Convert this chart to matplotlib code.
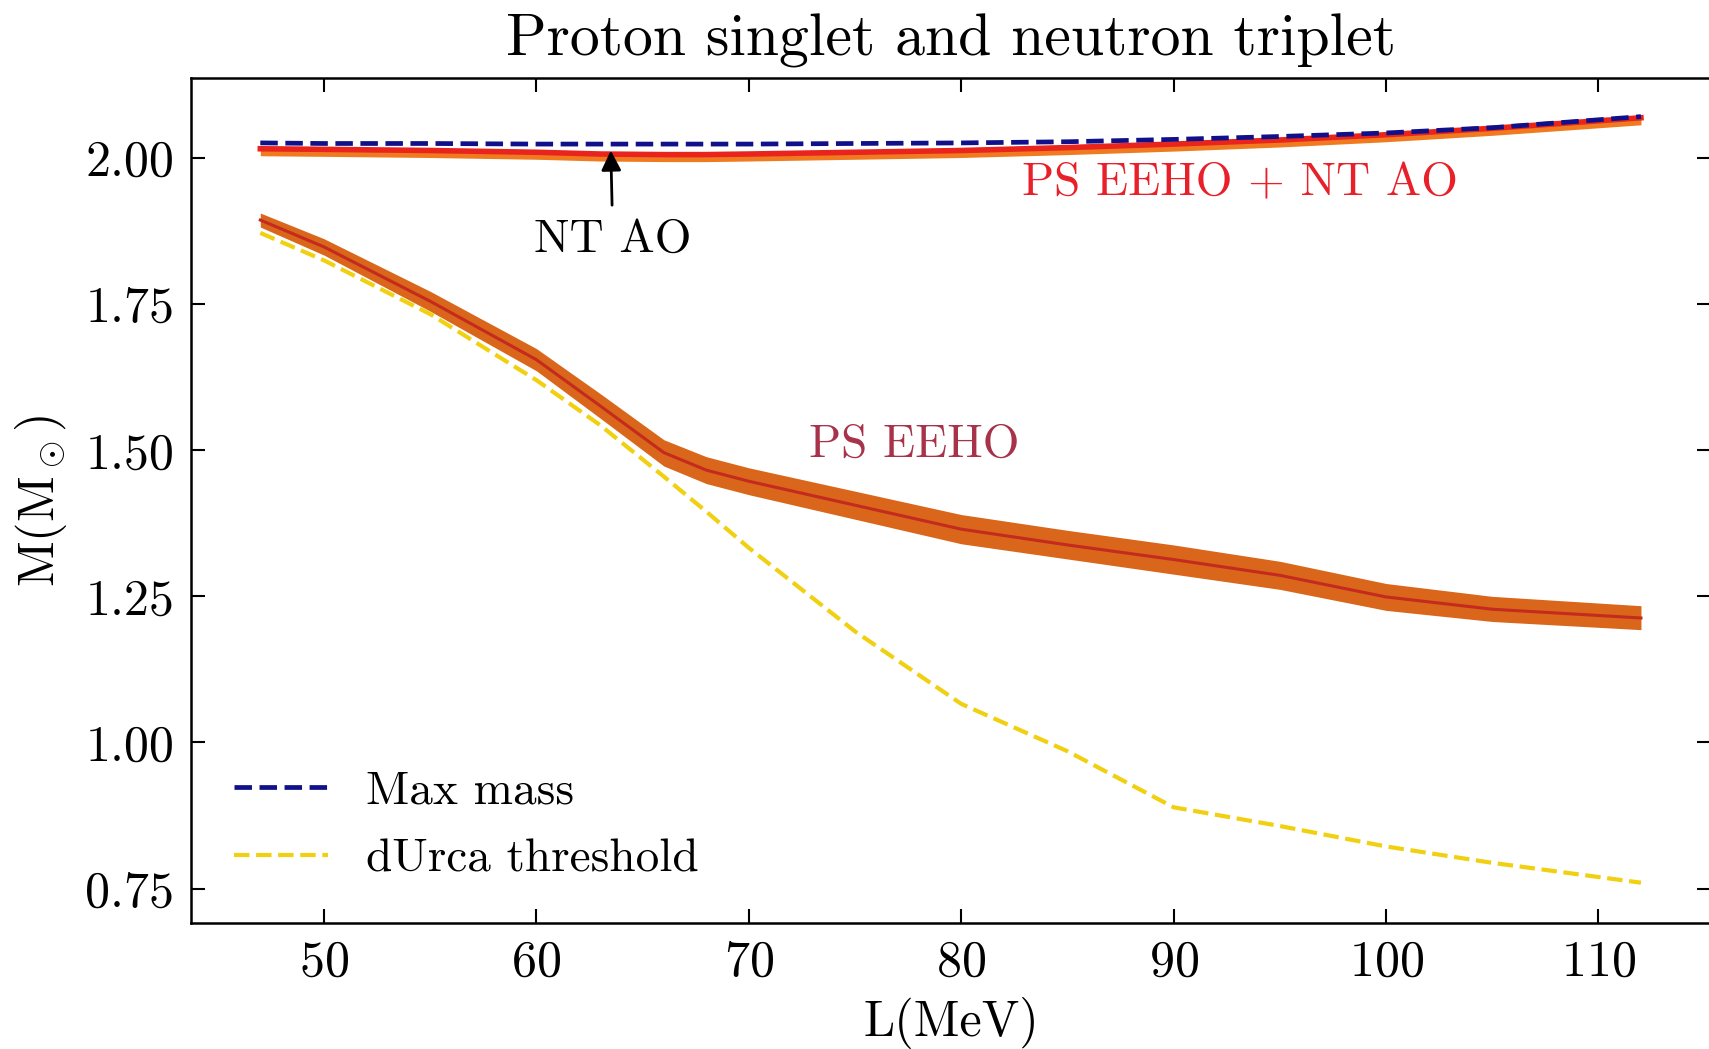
import matplotlib
matplotlib.use("Agg")
import matplotlib.pyplot as plt
from matplotlib.ticker import FormatStrFormatter

plt.rcParams['font.family'] = 'serif'
plt.rcParams['font.serif'] = ['cmr10']
plt.rcParams['mathtext.fontset'] = 'cm'
plt.rcParams['axes.formatter.use_mathtext'] = True

# slope parameter L (MeV)
L = [47, 50, 55, 60, 63, 66, 68, 70, 75, 80, 85, 90, 95, 100, 105, 112]

# maximum mass and the PS EEHO + NT AO curve (M_sun)
m_max = [2.026, 2.025, 2.025, 2.024, 2.024, 2.024, 2.024, 2.024, 2.025, 2.026,
         2.028, 2.032, 2.037, 2.043, 2.052, 2.071]
m_ps_nt = [2.016, 2.015, 2.013, 2.010, 2.007, 2.006, 2.006, 2.007, 2.010, 2.013,
           2.018, 2.024, 2.031, 2.040, 2.051, 2.069]

# PS EEHO: central value and band
m_ps = [1.894, 1.848, 1.755, 1.655, 1.576, 1.496, 1.466, 1.447, 1.406, 1.365,
        1.338, 1.313, 1.286, 1.249, 1.228, 1.213]
m_ps_lo = [1.882, 1.834, 1.738, 1.636, 1.555, 1.473, 1.443, 1.424, 1.382, 1.340,
           1.314, 1.288, 1.262, 1.226, 1.207, 1.193]
m_ps_hi = [1.906, 1.862, 1.772, 1.674, 1.597, 1.518, 1.489, 1.470, 1.430, 1.390,
           1.363, 1.338, 1.310, 1.272, 1.250, 1.234]

# direct Urca threshold
m_durca = [1.872, 1.825, 1.733, 1.620, 1.543, 1.455, 1.395, 1.333, 1.190, 1.066,
           0.985, 0.889, 0.857, 0.822, 0.794, 0.760]

fig = plt.figure(figsize=(17.09, 10.49), dpi=100)
ax = fig.add_axes([0.1118, 0.1201, 0.8894, 0.8055])

# PS EEHO + NT AO (thin band with red line)
ax.fill_between(L, [v - 0.012 for v in m_ps_nt], [v + 0.003 for v in m_ps_nt],
                color='#f07a20', lw=0)
ax.plot(L, m_ps_nt, color='#e8241c', lw=4)

# PS EEHO band
ax.fill_between(L, m_ps_lo, m_ps_hi, color='#d9661a', lw=0)
ax.plot(L, m_ps, color='#c42a1e', lw=2.2)

ax.plot(L, m_max, color='#10108a', lw=3.4, ls='--', label='Max mass')
ax.plot(L, m_durca, color='#f0d010', lw=3, ls='--', label='dUrca threshold')

ax.annotate('NT AO', xy=(63.5, 2.013), xytext=(63.6, 1.86),
            ha='center', va='center', fontsize=34,
            arrowprops=dict(arrowstyle='-|>', color='black', lw=2,
                            mutation_scale=30, shrinkA=8, shrinkB=0))
ax.text(93.1, 1.957, 'PS EEHO + NT AO', color='#e8202a', fontsize=34,
        ha='center', va='center')
ax.text(77.8, 1.509, 'PS EEHO', color='#a8324a', fontsize=34,
        ha='center', va='center')

ax.set_xlim(43.74, 115.3)
ax.set_ylim(0.691, 2.137)
ax.set_xticks([50, 60, 70, 80, 90, 100, 110])
ax.set_yticks([0.75, 1.00, 1.25, 1.50, 1.75, 2.00])
ax.yaxis.set_major_formatter(FormatStrFormatter('%.2f'))
ax.tick_params(direction='in', top=True, right=True, length=10, width=1.5,
               labelsize=36, pad=12)
for s in ax.spines.values():
    s.set_linewidth(1.8)

ax.set_xlabel('L(MeV)', fontsize=36, labelpad=8)
ax.set_ylabel(r'M(M$_\odot$)', fontsize=36, labelpad=12)
ax.set_title('Proton singlet and neutron triplet', fontsize=43, pad=16)

ax.legend(loc='lower left', fontsize=34, frameon=False,
          bbox_to_anchor=(0.0, 0.0), handlelength=2.0, labelspacing=0.55)

fig.savefig('out.png', dpi=100)
